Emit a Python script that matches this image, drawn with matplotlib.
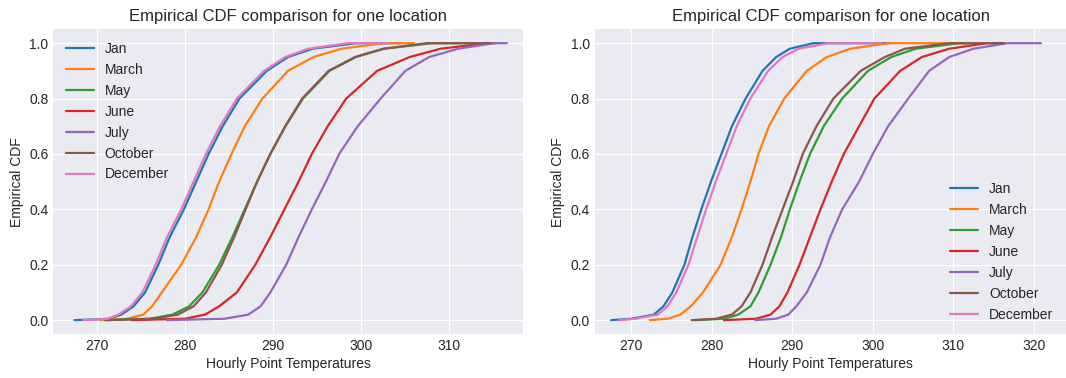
import numpy as np
import matplotlib
matplotlib.use("Agg")
import matplotlib.pyplot as plt

plt.style.use("seaborn-v0_8-darkgrid")
plt.rcParams['font.family'] = ['Liberation Sans', 'DejaVu Sans']

# cdf levels at which temperatures were taken (last entry = end of flat top)
levels = [0, 0.005, 0.02, 0.05, 0.1, 0.2, 0.3, 0.4, 0.5, 0.6, 0.7, 0.8, 0.9, 0.95, 0.98, 1.0, 1.0]

months = ["Jan", "March", "May", "June", "July", "October", "December"]
colors = ["#1f77b4", "#ff7f0e", "#2ca02c", "#d62728", "#9467bd", "#8c564b", "#e377c2"]

# location 1 : temperature [K] at each level
loc1_jan = [267.5, 271.5, 272.8, 274.2, 275.5, 277.0, 278.3, 279.9, 281.3, 282.7, 284.3, 286.2, 289.3, 291.7, 294.5, 299.5, 304.5]
loc1_mar = [270.5, 273.5, 275.3, 276.3, 277.4, 279.6, 281.3, 282.7, 283.9, 285.3, 286.8, 288.8, 291.7, 294.6, 297.8, 302.5, 306.0]
loc1_may = [271.0, 276.0, 278.6, 280.5, 282.0, 283.9, 285.4, 286.8, 288.2, 289.7, 291.4, 293.4, 296.4, 299.4, 302.6, 308.0, 315.0]
loc1_jun = [274.0, 280.0, 282.3, 283.9, 285.9, 288.0, 289.7, 291.3, 292.9, 294.4, 296.2, 298.3, 301.8, 305.5, 309.0, 314.3, 315.2]
loc1_jul = [278.0, 284.5, 287.2, 288.6, 289.7, 291.5, 292.9, 294.4, 296.0, 297.5, 299.6, 302.2, 305.0, 307.7, 311.0, 315.0, 316.5]
loc1_oct = [271.0, 276.5, 279.2, 281.0, 282.4, 284.2, 285.6, 286.9, 288.2, 289.7, 291.4, 293.3, 296.3, 299.3, 302.5, 307.5, 314.5]
loc1_dec = [268.5, 271.3, 272.5, 273.9, 275.2, 276.7, 278.0, 279.6, 281.0, 282.4, 284.0, 285.9, 289.0, 291.4, 294.0, 298.5, 303.0]

# location 2
loc2_jan = [267.5, 270.0, 272.8, 274.0, 275.1, 276.6, 277.6, 278.7, 279.9, 281.2, 282.5, 284.2, 286.3, 288.0, 289.7, 292.6, 302.0]
loc2_mar = [272.3, 274.5, 276.1, 277.4, 278.9, 281.1, 282.5, 283.7, 284.8, 285.8, 287.1, 289.0, 291.8, 294.3, 297.2, 302.0, 312.0]
loc2_may = [278.0, 281.5, 283.3, 284.8, 285.8, 287.3, 288.6, 289.7, 290.9, 292.2, 293.9, 296.2, 299.4, 302.3, 305.3, 310.8, 312.5]
loc2_jun = [281.5, 285.5, 287.3, 288.4, 289.4, 290.9, 292.2, 293.5, 294.9, 296.4, 298.3, 300.2, 303.4, 306.1, 309.5, 314.2, 316.3]
loc2_jul = [285.4, 288.0, 289.5, 290.5, 291.8, 293.5, 294.7, 296.2, 298.3, 300.0, 301.9, 304.4, 307.0, 309.5, 312.5, 316.7, 320.9]
loc2_oct = [277.5, 280.5, 282.5, 283.7, 284.8, 286.3, 287.5, 288.8, 290.1, 291.3, 293.0, 295.1, 298.5, 301.5, 304.0, 309.5, 316.3]
loc2_dec = [268.5, 270.5, 273.3, 274.5, 275.6, 277.1, 278.2, 279.3, 280.5, 281.8, 283.1, 284.8, 287.0, 288.8, 290.8, 294.5, 301.0]

loc1 = [loc1_jan, loc1_mar, loc1_may, loc1_jun, loc1_jul, loc1_oct, loc1_dec]
loc2 = [loc2_jan, loc2_mar, loc2_may, loc2_jun, loc2_jul, loc2_oct, loc2_dec]

fig = plt.figure(figsize=(10.66, 3.78), dpi=100)
ax1 = fig.add_axes([0.050, 0.1164, 0.4403, 0.806])
ax2 = fig.add_axes([0.5582, 0.1164, 0.4418, 0.806])

for ax, data, loc in [(ax1, loc1, "upper left"), (ax2, loc2, "lower right")]:
    for temps, name, c in zip(data, months, colors):
        ax.plot(temps, levels, color=c, lw=1.6, label=name)
    ax.set_title("Empirical CDF comparison for one location", fontsize=12)
    ax.set_xlabel("Hourly Point Temperatures", fontsize=10, labelpad=3)
    ax.set_ylabel("Empirical CDF", fontsize=10)
    ax.tick_params(labelsize=10)
    ax.legend(loc=loc, fontsize=10, frameon=False)

ax1.set_xlim(265.1, 318.3)
ax2.set_xlim(265.5, 324.0)
ax2.set_xticks([270, 280, 290, 300, 310, 320])

plt.savefig("out.png", dpi=100)
